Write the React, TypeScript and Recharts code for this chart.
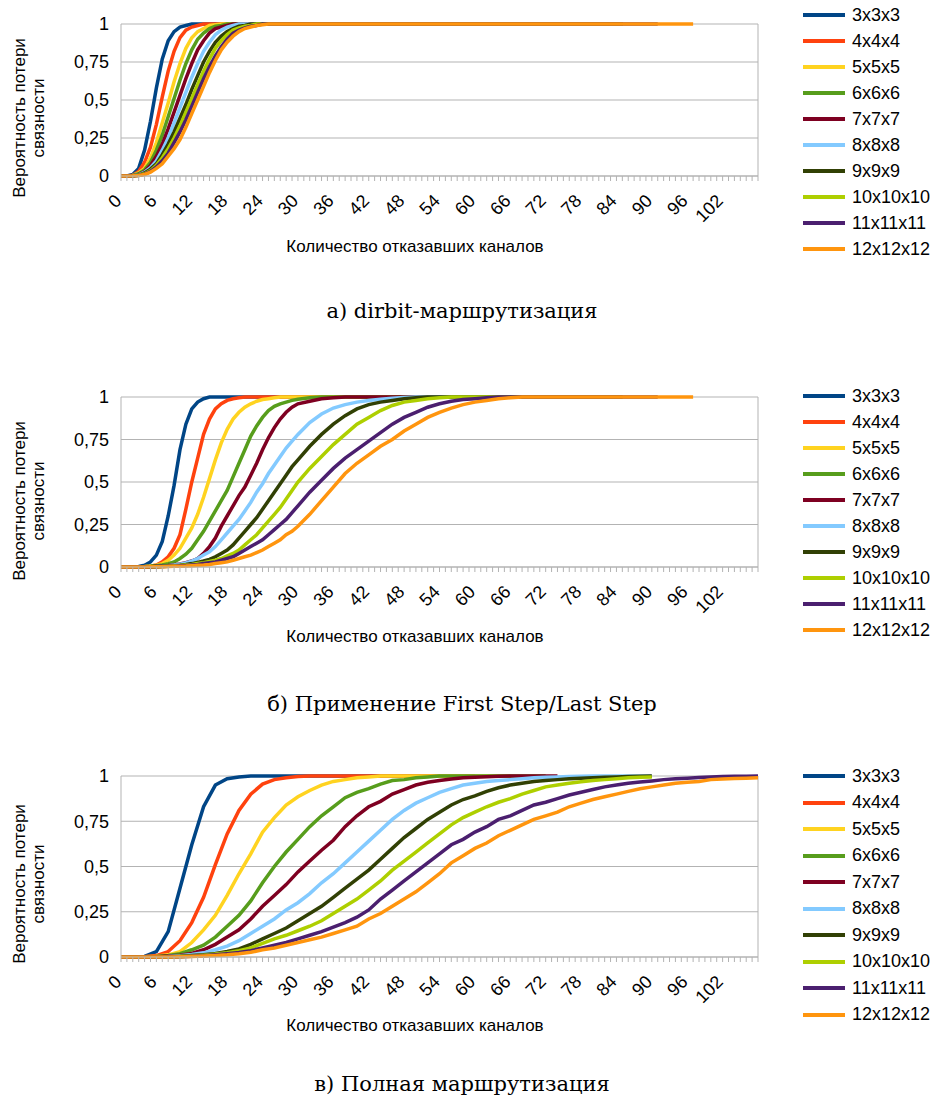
import React from 'react';
import { LineChart, Line, XAxis, YAxis, CartesianGrid, ReferenceLine } from 'recharts';

// series names + colours (same for all three panels)
const names = ['3x3x3', '4x4x4', '5x5x5', '6x6x6', '7x7x7', '8x8x8', '9x9x9', '10x10x10', '11x11x11', '12x12x12'];
const colors = ['#004586', '#ff420e', '#ffd320', '#579d1c', '#7e0021', '#83caff', '#314004', '#aecf00', '#4b1f6f', '#ff950e'];

const yTicks = [0, 0.25, 0.5, 0.75, 1];

// ---- a) dirbit routing: channels 0..27, then the flat tail ends
const xsDirbit = [0, 1, 2, 3, 4, 5, 6, 7, 8, 9, 10, 11, 12, 13, 14, 15, 16, 17, 18, 19, 20, 21, 22, 23, 24, 25, 26, 27, 85, 91, 97];

const dirbit3 = [0, 0, .01, .05, .17, .36, .58, .77, .89, .95, .98, .99, 1, 1, 1, 1, 1, 1, 1, 1, 1, 1, 1, 1, 1, 1, 1, 1, 1];
const dirbit4 = [0, 0, .005, .03, .09, .19, .34, .52, .69, .82, .91, .96, .98, .99, 1, 1, 1, 1, 1, 1, 1, 1, 1, 1, 1, 1, 1, 1, 1];
const dirbit5 = [0, 0, .004, .02, .05, .12, .22, .35, .48, .62, .74, .84, .91, .95, .97, .99, .995, 1, 1, 1, 1, 1, 1, 1, 1, 1, 1, 1, 1];
const dirbit6 = [0, 0, .003, .015, .04, .09, .17, .27, .39, .51, .63, .74, .83, .9, .94, .97, .985, .99, 1, 1, 1, 1, 1, 1, 1, 1, 1, 1, 1];
const dirbit7 = [0, 0, .002, .01, .03, .07, .13, .21, .31, .42, .53, .64, .74, .83, .89, .94, .97, .98, .99, 1, 1, 1, 1, 1, 1, 1, 1, 1, 1];
const dirbit8 = [0, 0, .002, .008, .025, .055, .1, .17, .25, .35, .45, .55, .65, .74, .82, .88, .93, .96, .98, .99, 1, 1, 1, 1, 1, 1, 1, 1, 1];
const dirbit9 = [0, 0, .001, .006, .02, .045, .08, .14, .21, .29, .38, .47, .57, .66, .75, .82, .88, .92, .95, .97, .985, .99, 1, 1, 1, 1, 1, 1, 1];
const dirbit10 = [0, 0, .001, .005, .015, .035, .07, .12, .18, .25, .33, .42, .51, .6, .69, .77, .84, .89, .93, .96, .975, .985, .99, 1, 1, 1, 1, 1, 1];
const dirbit11 = [0, 0, .001, .004, .012, .03, .06, .1, .15, .22, .29, .37, .46, .55, .64, .72, .79, .85, .9, .94, .96, .975, .985, .99, 1, 1, 1, 1, 1, 1];
const dirbit12 = [0, 0, .001, .003, .01, .025, .05, .08, .13, .18, .24, .32, .41, .5, .59, .68, .76, .83, .88, .92, .95, .97, .98, .99, .995, 1, 1, 1, 1, 1, 1];

// ---- б) First Step / Last Step: 0..30 by 1, 32..70 by 2, then tail ends
const xsFsls = [
  0, 1, 2, 3, 4, 5, 6, 7, 8, 9, 10, 11, 12, 13, 14, 15, 16, 17, 18, 19, 20, 21, 22, 23, 24, 25, 26, 27, 28, 29, 30,
  32, 34, 36, 38, 40, 42, 44, 46, 48, 50, 52, 54, 56, 58, 60, 62, 64, 66, 68, 70,
  85, 91, 97,
];

const fsls3 = [
  0, 0, 0, .003, .01, .03, .07, .15, .3, .48,
  .69, .84, .93, .97, .99, 1, 1, 1, 1, 1,
  1, 1, 1, 1, 1, 1, 1, 1, 1, 1, 1,
  1, 1, 1, 1, 1, 1, 1, 1, 1, 1, 1, 1, 1, 1, 1, 1, 1, 1, 1, 1,
  1,
];
const fsls4 = [
  0, 0, 0, 0, .002, .005, .012, .03, .06, .11,
  .19, .34, .5, .64, .78, .87, .93, .96, .98, .99,
  .995, 1, 1, 1, 1, 1, 1, 1, 1, 1, 1,
  1, 1, 1, 1, 1, 1, 1, 1, 1, 1, 1, 1, 1, 1, 1, 1, 1, 1, 1, 1,
  1,
];
const fsls5 = [
  0, 0, 0, .001, .003, .006, .01, .02, .04, .07,
  .11, .17, .23, .31, .41, .52, .63, .73, .81, .87,
  .91, .94, .96, .975, .985, .99, .995, 1, 1, 1, 1,
  1, 1, 1, 1, 1, 1, 1, 1, 1, 1, 1, 1, 1, 1, 1, 1, 1, 1, 1, 1,
  1,
];
const fsls6 = [
  0, 0, 0, .001, .002, .004, .007, .012, .02, .03,
  .05, .075, .11, .16, .21, .27, .33, .39, .45, .53,
  .61, .69, .77, .83, .88, .92, .945, .96, .97, .98, .987,
  .995, 1, 1, 1, 1, 1, 1, 1, 1, 1, 1, 1, 1, 1, 1, 1, 1, 1, 1, 1,
  1,
];
const fsls7 = [
  0, 0, 0, 0, .001, .002, .004, .006, .009, .013,
  .018, .025, .035, .05, .08, .12, .17, .24, .3, .36,
  .42, .47, .54, .61, .69, .76, .82, .87, .91, .94, .96,
  .975, .99, .995, 1, 1, 1, 1, 1, 1, 1, 1, 1, 1, 1, 1, 1, 1, 1, 1,
  1,
];
const fsls8 = [
  0, 0, 0, 0, .001, .002, .003, .005, .008, .012,
  .017, .024, .035, .05, .07, .09, .12, .16, .2, .24,
  .28, .33, .38, .44, .49, .55, .6, .65, .7, .74, .78,
  .85, .9, .935, .955, .97, .98, .987, .993, .997, 1, 1, 1, 1, 1, 1, 1, 1, 1, 1,
  1,
];
const fsls9 = [
  0, 0, 0, 0, .001, .002, .003, .004, .006, .008,
  .011, .015, .02, .027, .035, .045, .06, .08, .1, .13,
  .17, .21, .25, .29, .34, .39, .44, .49, .54, .59, .63,
  .71, .78, .84, .89, .93, .955, .97, .98, .99, .995, 1, 1, 1, 1, 1, 1, 1, 1, 1,
  1,
];
const fsls10 = [
  0, 0, 0, 0, .001, .001, .002, .003, .005, .007,
  .009, .012, .015, .02, .025, .032, .04, .05, .065, .08,
  .1, .13, .16, .19, .23, .27, .31, .35, .4, .45, .5,
  .58, .65, .72, .78, .84, .88, .92, .95, .97, .98, .99, .995, 1, 1, 1, 1, 1, 1, 1,
  1,
];
const fsls11 = [
  0, 0, 0, 0, 0, .001, .002, .003, .004, .005,
  .007, .009, .012, .015, .02, .025, .03, .04, .05, .06,
  .08, .1, .12, .14, .16, .19, .22, .25, .28, .32, .36,
  .44, .51, .58, .64, .69, .74, .79, .84, .88, .91, .94, .96, .975, .985, .99, .995, 1, 1, 1, 1,
  1, 1,
];
const fsls12 = [
  0, 0, 0, 0, 0, .001, .001, .002, .003, .004,
  .005, .006, .008, .01, .012, .015, .02, .025, .03, .04,
  .05, .06, .07, .085, .1, .12, .14, .16, .19, .21, .24,
  .31, .39, .47, .55, .61, .66, .71, .75, .8, .84, .88, .91, .935, .955, .97, .98, .99, .995, 1, 1,
  1, 1, 1,
];

// ---- в) full routing: 0..108 by 2
const xsFull = [
  0, 2, 4, 6, 8, 10, 12, 14, 16, 18, 20, 22, 24, 26, 28, 30, 32, 34, 36, 38,
  40, 42, 44, 46, 48, 50, 52, 54, 56, 58, 60, 62, 64, 66, 68, 70, 72, 74, 76, 78,
  80, 82, 84, 86, 88, 90, 92, 94, 96, 98, 100, 102, 104, 106, 108,
];

const full3 = [
  0, 0, .003, .03, .14, .38, .62, .83, .95, .985,
  .995, 1, 1, 1, 1, 1, 1, 1, 1, 1,
  1, 1, 1, 1, 1, 1, 1, 1,
];
const full4 = [
  0, 0, .002, .008, .03, .09, .19, .33, .51, .68,
  .81, .9, .955, .98, .99, .997, 1, 1, 1, 1,
  1, 1, 1, 1, 1, 1, 1, 1, 1, 1,
  1,
];
const full5 = [
  0, 0, .001, .004, .012, .03, .08, .15, .23, .34,
  .46, .57, .69, .77, .84, .885, .92, .95, .97, .98,
  .99, .995, 1, 1, 1, 1, 1, 1, 1, 1,
  1, 1, 1, 1,
];
const full6 = [
  0, 0, .001, .003, .008, .018, .04, .065, .11, .17,
  .23, .31, .41, .5, .58, .65, .72, .78, .83, .88,
  .91, .93, .955, .975, .98, .99, .995, 1, 1, 1,
  1, 1, 1, 1, 1, 1, 1,
];
const full7 = [
  0, 0, 0, .002, .005, .01, .02, .04, .07, .11,
  .15, .21, .28, .34, .4, .47, .53, .59, .645, .72,
  .78, .83, .86, .9, .925, .95, .965, .975, .983, .99,
  .993, .996, .998, 1, 1, 1, 1, 1,
];
const full8 = [
  0, 0, 0, .001, .003, .007, .014, .023, .04, .06,
  .09, .13, .17, .21, .26, .3, .35, .41, .46, .52,
  .58, .64, .7, .76, .81, .85, .88, .91, .93, .95,
  .96, .97, .975, .98, .985, .99, .993, .995, .997, .998,
  1, 1, 1, 1, 1, 1,
];
const full9 = [
  0, 0, 0, .001, .002, .004, .008, .013, .02, .03,
  .045, .07, .1, .13, .16, .2, .24, .28, .33, .38,
  .43, .48, .54, .6, .66, .71, .76, .8, .84, .87,
  .89, .915, .935, .95, .96, .97, .975, .98, .985, .988,
  .99, .993, .995, .997, .998, 1,
];
const full10 = [
  0, 0, 0, 0, .001, .003, .006, .01, .016, .024,
  .035, .05, .075, .1, .12, .145, .17, .2, .24, .28,
  .32, .37, .42, .48, .53, .58, .63, .68, .73, .77,
  .8, .83, .855, .875, .9, .92, .94, .95, .96, .968,
  .975, .98, .985, .99, .993, .995,
];
const full11 = [
  0, 0, 0, 0, .001, .002, .004, .007, .012, .018,
  .025, .035, .05, .065, .08, .1, .12, .14, .165, .19,
  .22, .26, .32, .37, .42, .47, .52, .57, .62, .65,
  .69, .72, .76, .78, .81, .84, .855, .875, .895, .91,
  .925, .94, .95, .96, .967, .973, .98, .985, .988, .992,
  .995, .997, .998, .999, 1,
];
const full12 = [
  0, 0, 0, 0, 0, .001, .003, .005, .008, .012,
  .018, .026, .04, .05, .065, .08, .095, .11, .13, .15,
  .17, .21, .24, .28, .32, .36, .41, .46, .52, .56,
  .6, .63, .67, .7, .73, .76, .78, .8, .83, .85,
  .87, .885, .9, .915, .93, .94, .95, .96, .965, .97,
  .98, .983, .986, .988, .99,
];

const xTitle = 'Количество отказавших каналов';
const yTitle = ['Вероятность потери', 'связности'];

const panels = [
  {
    top: 0, plotH: 152, legendTop: 2, legendStep: 26, xTitleY: 247, yTitleY: 118, captionY: 311,
    caption: 'а) dirbit-маршрутизация',
    xs: xsDirbit,
    series: [dirbit3, dirbit4, dirbit5, dirbit6, dirbit7, dirbit8, dirbit9, dirbit10, dirbit11, dirbit12],
  },
  {
    top: 373, plotH: 170, legendTop: 383, legendStep: 26, xTitleY: 637, yTitleY: 501, captionY: 704,
    caption: 'б) Применение First Step/Last Step',
    xs: xsFsls,
    series: [fsls3, fsls4, fsls5, fsls6, fsls7, fsls8, fsls9, fsls10, fsls11, fsls12],
  },
  {
    top: 752, plotH: 181, legendTop: 763, legendStep: 26.5, xTitleY: 1026, yTitleY: 884, captionY: 1084,
    caption: 'в) Полная маршрутизация',
    xs: xsFull,
    series: [full3, full4, full5, full6, full7, full8, full9, full10, full11, full12],
  },
];

const allTicks = Array.from({ length: 109 }, (_, i) => i);
const GRID = '#b3b3b3';

const XTick = (props: any) => {
  const { x, y, payload } = props;
  const v = payload.value;
  if (v % 6 !== 0 || v > 102) return <g />;
  const ax = x + 1.5;
  const ay = y + 19;
  return (
    <text x={ax} y={ay} textAnchor="end" fontSize={18} fill="#000" transform={`rotate(-45 ${ax} ${ay})`}>
      {v}
    </text>
  );
};

function Panel({ p }: { p: any }) {
  const rows = p.xs.map((x: number, i: number) => {
    const r: any = { x };
    p.series.forEach((s: number[], k: number) => {
      if (i < s.length) r['s' + k] = s[i];
    });
    return r;
  });

  return (
    <>
      <div style={{ position: 'absolute', left: 0, top: p.top }}>
        <LineChart width={930} height={24 + p.plotH + 60} data={rows}
          margin={{ top: 24, right: 172, bottom: 0, left: 0 }}>
          <CartesianGrid vertical={false} stroke={GRID} />
          <XAxis dataKey="x" type="number" domain={[0, 108]} ticks={allTicks} interval={0}
            tick={<XTick />} tickSize={5} tickMargin={2} stroke={GRID} height={60} />
          <YAxis type="number" domain={[0, 1]} ticks={yTicks} width={121} tickLine={false}
            tickMargin={6} stroke={GRID} tick={{ fill: '#000', fontSize: 18 }}
            tickFormatter={(v: number) => String(v).replace('.', ',')} />
          <ReferenceLine x={108} stroke={GRID} />
          {p.series.map((_: any, k: number) => (
            <Line key={k} dataKey={'s' + k} type="linear" stroke={colors[k]} strokeWidth={3.5}
              dot={false} activeDot={false} isAnimationActive={false} />
          ))}
        </LineChart>
      </div>

      {/* legend */}
      <div style={{ position: 'absolute', left: 803, top: p.legendTop }}>
        {names.map((n, k) => (
          <div key={n} style={{ height: p.legendStep, display: 'flex', alignItems: 'center' }}>
            <div style={{ width: 42, height: 4, background: colors[k], marginRight: 7 }} />
            <span style={{ fontSize: 18 }}>{n}</span>
          </div>
        ))}
      </div>

      {/* axis titles */}
      <div style={{ position: 'absolute', left: 0, width: 830, top: p.xTitleY - 10, lineHeight: '20px',
        textAlign: 'center', fontSize: 17 }}>
        {xTitle}
      </div>
      <div style={{ position: 'absolute', left: 29, top: p.yTitleY, fontSize: 17, lineHeight: '19px',
        textAlign: 'center', whiteSpace: 'nowrap', transform: 'translate(-50%, -50%) rotate(-90deg)' }}>
        {yTitle[0]}<br />{yTitle[1]}
      </div>

      {/* caption */}
      <div style={{ position: 'absolute', left: 0, width: 924, top: p.captionY - 13, lineHeight: '26px',
        textAlign: 'center', fontSize: 21, fontFamily: '"DejaVu Serif", serif' }}>
        {p.caption}
      </div>
    </>
  );
}

export default function App() {
  return (
    <div style={{ position: 'absolute', left: 0, top: 0, width: 930, height: 1106, background: '#fff',
      fontFamily: '"Liberation Sans", Arial, sans-serif', color: '#000' }}>
      {panels.map((p, i) => <Panel key={i} p={p} />)}
    </div>
  );
}
